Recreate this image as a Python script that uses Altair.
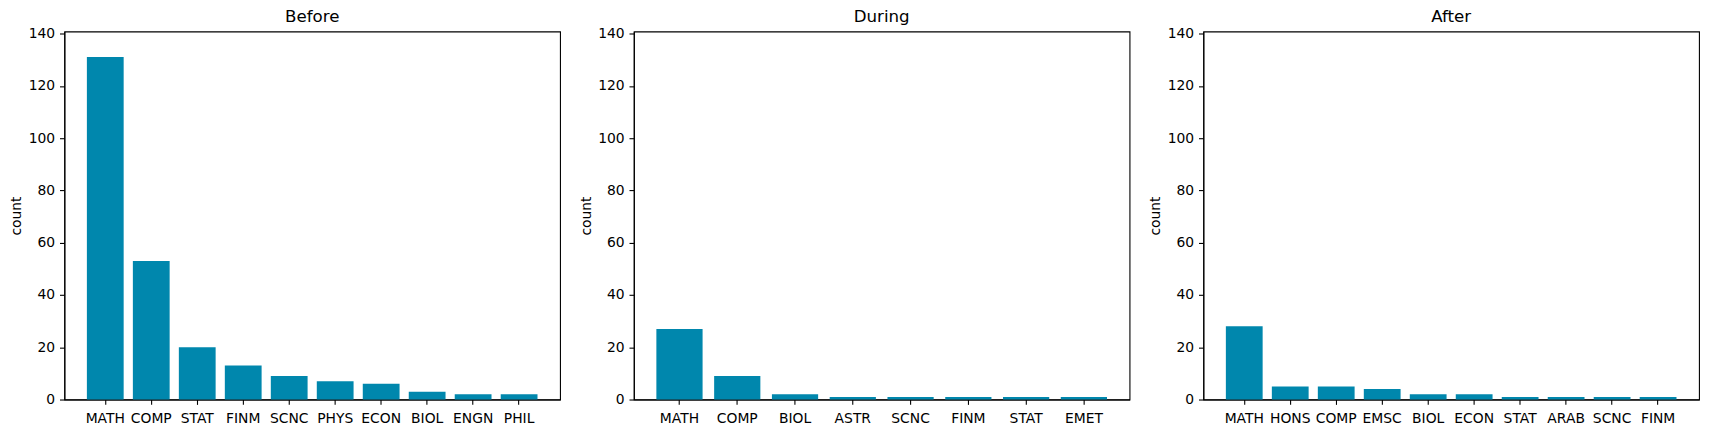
import pandas as pd
import altair as alt

# Course codes and counts per period
panel_titles = ["Before", "During", "After"]

before_codes = ["MATH", "COMP", "STAT", "FINM", "SCNC", "PHYS", "ECON", "BIOL", "ENGN", "PHIL"]
before_counts = [131, 53, 20, 13, 9, 7, 6, 3, 2, 2]

during_codes = ["MATH", "COMP", "BIOL", "ASTR", "SCNC", "FINM", "STAT", "EMET"]
during_counts = [27, 9, 2, 1, 1, 1, 1, 1]

after_codes = ["MATH", "HONS", "COMP", "EMSC", "BIOL", "ECON", "STAT", "ARAB", "SCNC", "FINM"]
after_counts = [28, 5, 5, 4, 2, 2, 1, 1, 1, 1]

y_ticks = [0, 20, 40, 60, 80, 100, 120, 140]
y_max = 140.8

BAR_COLOR = "#0087ad"
FONT = "DejaVu Sans"
W, H = 497, 369


def panel(title, codes, counts):
    df = pd.DataFrame({"code": codes, "count": counts})
    # bar width 0.8 and 5% margin on each side, like matplotlib
    outer = 0.05 * (len(codes) - 0.2)
    return alt.Chart(df, title=alt.Title(title)).mark_bar(color=BAR_COLOR).encode(
        x=alt.X("code:N", sort=codes, title=None,
                scale=alt.Scale(paddingInner=0.2, paddingOuter=outer),
                axis=alt.Axis(labelAngle=0, labelBaseline="alphabetic", labelPadding=17.7)),
        y=alt.Y("count:Q", scale=alt.Scale(domain=[0, y_max], nice=False),
                axis=alt.Axis(values=y_ticks, title="count", titleAngle=270,
                              titleX=-43.5, titleY=H / 2, titleBaseline="alphabetic",
                              titleAlign="center", labelPadding=4.86)),
    ).properties(width=W, height=H)


chart = alt.hconcat(
    panel(panel_titles[0], before_codes, before_counts),
    panel(panel_titles[1], during_codes, during_counts),
    panel(panel_titles[2], after_codes, after_counts),
    spacing=74, bounds="flush",
).properties(
    padding={"left": 0.5, "top": -1, "right": 5, "bottom": 5}
).configure_view(
    stroke="black", strokeWidth=1.1
).configure_axis(
    domainColor="black", domainWidth=1.1, tickColor="black", tickWidth=1.1, tickSize=4.86,
    labelFont=FONT, labelFontSize=13.9, labelColor="black",
    titleFont=FONT, titleFontSize=13.9, titleFontWeight="normal", titleColor="black",
    grid=False, zindex=1
).configure_title(
    font=FONT, fontSize=16.7, fontWeight="normal", color="black",
    anchor="middle", frame="group", offset=1, baseline="alphabetic"
)

chart.save("out.html", embed_options={"renderer": "svg", "actions": False})
